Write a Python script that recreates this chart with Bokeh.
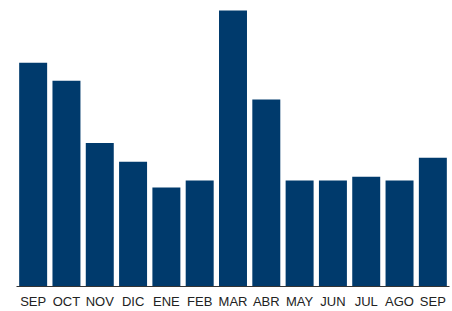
from bokeh.plotting import figure
from bokeh.models import ColumnDataSource, Range1d, FixedTicker
from bokeh.embed import file_html
from bokeh.resources import INLINE

labels = ["SEP", "OCT", "NOV", "DIC", "ENE", "FEB", "MAR", "ABR", "MAY", "JUN", "JUL", "AGO", "SEP"]
values = [226, 208, 145, 126, 100, 107, 279, 189, 107, 107, 111, 107, 130]
xs = list(range(len(labels)))

src = ColumnDataSource(dict(x=xs, v=values))

p = figure(width=452, height=311, x_range=Range1d(-0.5, len(labels) - 0.5),
           y_range=Range1d(0, 289), output_backend="svg", toolbar_location=None,
           min_border_left=16, min_border_right=3, min_border_top=0, min_border_bottom=22)
p.vbar(x="x", top="v", width=0.84, source=src, fill_color="#003a6c", line_color=None)

p.yaxis.visible = False
p.xgrid.visible = False
p.ygrid.visible = False
p.outline_line_color = None
p.xaxis.ticker = FixedTicker(ticks=xs)
p.xaxis.major_label_overrides = {i: l for i, l in zip(xs, labels)}
p.xaxis.major_tick_line_color = None
p.xaxis.minor_tick_line_color = None
p.xaxis.major_tick_out = 0
p.xaxis.major_label_standoff = 7
p.xaxis.axis_line_color = "#333333"
p.xaxis.major_label_text_font = "Liberation Sans"
p.xaxis.major_label_text_font_size = "13px"
p.xaxis.major_label_text_color = "#222222"

open("out.html", "w").write(file_html(p, INLINE))
